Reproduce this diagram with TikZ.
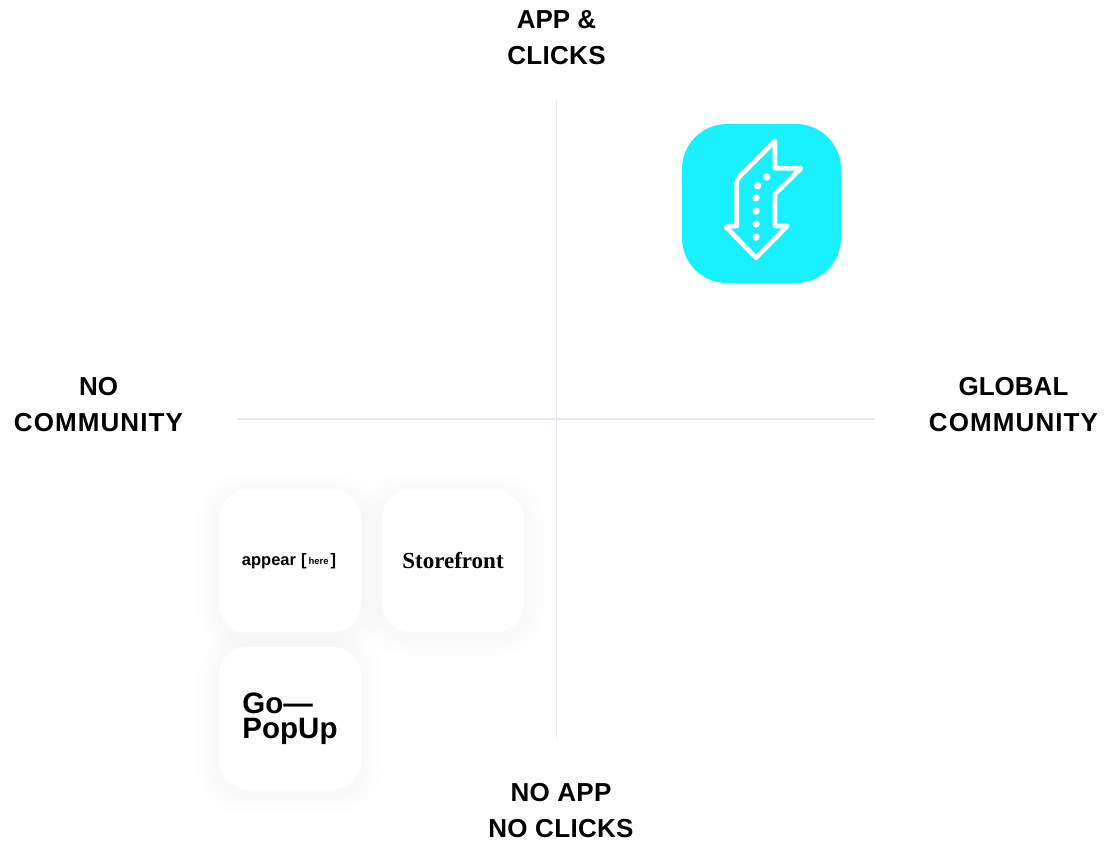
\documentclass[tikz,border=0pt]{standalone}
\usepackage{fontspec}
\setmainfont{Liberation Sans}
\newfontfamily\wideface[LetterSpace=4.2]{Liberation Sans}
\newfontfamily\labelface[LetterSpace=1.2]{Liberation Sans}
\newfontfamily\serifface{Liberation Serif}
\usetikzlibrary{positioning}
\definecolor{axisgrey}{HTML}{E6E9F0}
\definecolor{iconcyan}{HTML}{18F0FF}
\tikzset{
  axis/.style={draw=axisgrey,line width=1.2pt},
  corner/.style={font=\bfseries\fontsize{26}{36}\selectfont,align=center,text=black},
  card/.style={fill=white,rounded corners=28pt,minimum size=142pt,inner sep=0pt,text=black,align=center},
  glow/.style={fill=black,opacity=0.002,rounded corners=#1+28pt,minimum size=142pt+2*#1,inner sep=0pt}
}
\begin{document}
\begin{tikzpicture}[x=1pt,y=-1pt]
\useasboundingbox (0,0) rectangle (1110,844);
\coordinate (n) at (556.5,100);
\coordinate (s) at (556.5,739);
\coordinate (w) at (237,419);
\coordinate (e) at (875,419);
\draw[axis] (n) -- (s);
\draw[axis] (w) -- (e);
\node[corner] (top) at (556.5,37.5) {APP \&\\\labelface CLICKS};
\node[corner] (bottom) at (561,810.2) {\labelface NO APP\\\labelface NO CLICKS};
\node[corner] (left) at (98.5,404.5) {NO\\\wideface COMMUNITY};
\node[corner] (right) at (1013.5,404.5) {GLOBAL\\\wideface COMMUNITY};
% soft shadows first
\foreach \r in {4,8,...,24} {
  \node[glow=\r pt] at (290,565) {};
  \node[glow=\r pt] at (453,565) {};
  \node[glow=\r pt] at (290,722) {};
}
\node[card,font=\bfseries\fontsize{16.5}{16.5}\selectfont] (appear) at (290,561) {\hspace{-2pt}appear\hspace{5pt}[\hspace{2pt}\raisebox{1pt}{\fontsize{9.5}{9.5}\selectfont here}\hspace{2pt}]};
\node[card,font=\serifface\bfseries\fontsize{23}{23}\selectfont] (storefront) at (453,561) {Storefront};
\node[card,font=\bfseries\fontsize{29.5}{25}\selectfont,align=left] (gopopup) at (290,718) {\rule{0pt}{23pt}Go—\\PopUp};
\node[fill=iconcyan,rounded corners=45pt,minimum size=159pt,inner sep=0pt] (app) at (761.5,203.5) {};
\draw[white,line width=4.7pt,line join=round,line cap=round]
  (775,141) -- (775,168.3) -- (801,168.3) -- (775,194) -- (775,226) -- (787.3,226)
  -- (756,257.7) -- (725.7,226.7) -- (736.7,226) -- (736.7,184)
  .. controls (736.7,180) and (738,178) .. (740,176) -- cycle;
\foreach \x/\y in {766.7/177,757.7/185.7,756/198,756/211,756/224,756/237}
  \fill[white] (\x,\y) circle (3.7pt);
\end{tikzpicture}
\end{document}
